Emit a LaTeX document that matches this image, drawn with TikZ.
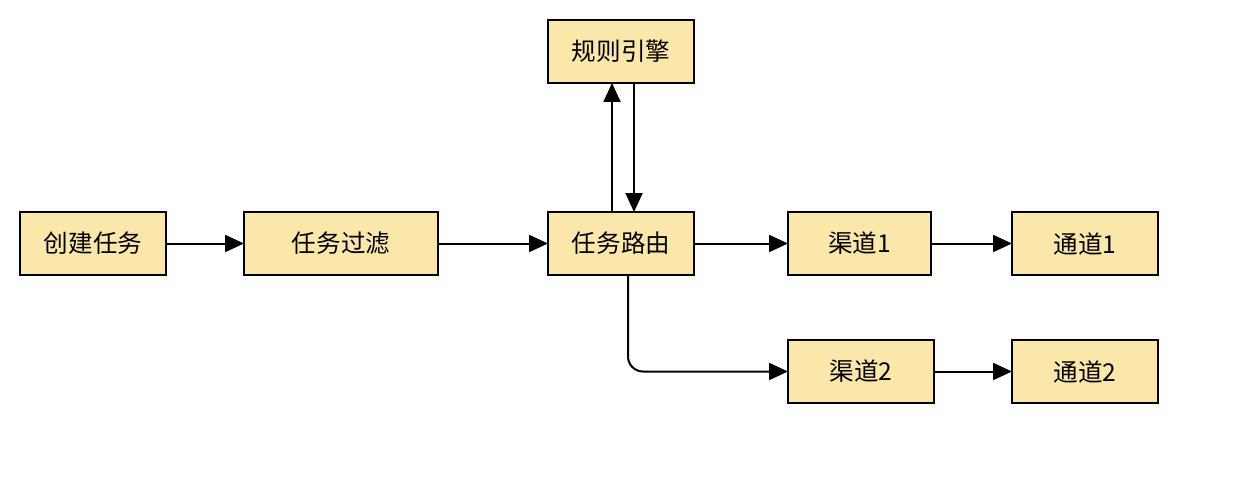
\documentclass[tikz,border=0pt]{standalone}
\usepackage{fontspec}
\setmainfont{Noto Sans CJK SC}
\usepackage{xcolor}
\usetikzlibrary{arrows.meta}
\definecolor{boxfill}{HTML}{FCE7AA}
\tikzset{
	stage/.style={
			draw=black, fill=boxfill, line width=0.04cm,
			minimum width=2.92cm, minimum height=1.26cm,
			inner sep=0pt, outer sep=0pt,
			font=\fontsize{14}{17}\selectfont
		},
	flow/.style={
			line width=0.04cm,
			-{Triangle[length=0.38cm,width=0.34cm]}
		}
}

\begin{document}
\begin{tikzpicture}[x=0.02cm,y=-0.02cm]
	% Canvas
	\useasboundingbox (0,0) rectangle (1238,484);

	% Main line
	\node [stage] (create) at (93,243.5) {创建任务};
	\node [stage, minimum width=3.88cm] (filter) at (341,243.5) {任务过滤};
	\node [stage] (route) at (621,243.5) {任务路由};
	\node [stage] (rule) at (621,51.5) {规则引擎};

	% Channels
	\node [stage, minimum width=2.86cm] (chanA) at (859.5,243.5) {渠道1};
	\node [stage] (pipeA) at (1085,243.5) {通道1};
	\node [stage] (chanB) at (861,371.5) {渠道2};
	\node [stage] (pipeB) at (1085,371.5) {通道2};

	% Arrows
	\draw [flow] (create) -- (filter);
	\draw [flow] (filter) -- (route);
	\draw [flow] ([xshift=-0.18cm]route.north) -- ([xshift=-0.18cm]rule.south);
	\draw [flow] ([xshift=0.26cm]rule.south) -- ([xshift=0.26cm]route.north);
	\draw [flow] (route) -- (chanA);
	\draw [flow] (chanA) -- (pipeA);
	\draw [flow, rounded corners=0.3cm] ([xshift=0.14cm]route.south) |- (chanB.west);
	\draw [flow] (chanB) -- (pipeB);
\end{tikzpicture}
\end{document}
